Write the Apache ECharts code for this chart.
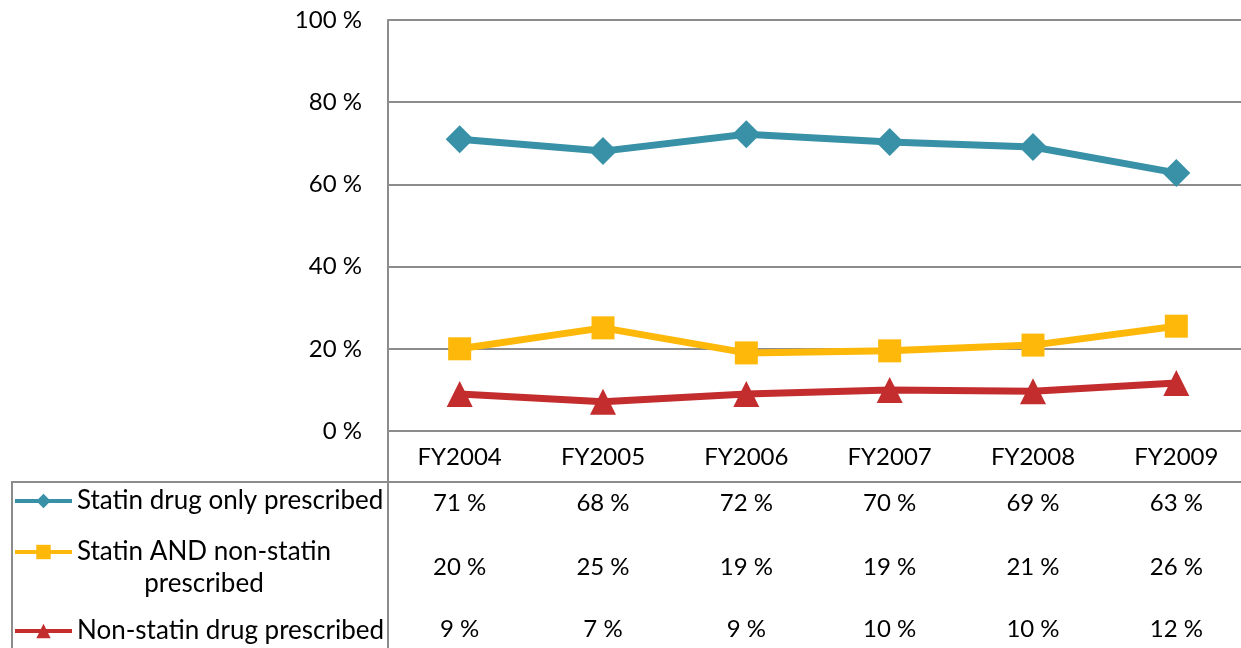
<!DOCTYPE html>
<html>
<head>
<meta charset="utf-8">
<script src="https://cdn.jsdelivr.net/npm/echarts@6/dist/echarts.min.js"></script>
<style>
  html, body { margin: 0; padding: 0; background: #fff; }
  #chart { width: 1241px; height: 648px; }
</style>
</head>
<body>
<div id="chart"></div>
<script>
// data
const years = ['FY2004', 'FY2005', 'FY2006', 'FY2007', 'FY2008', 'FY2009'];
const seriesNames = ['Statin drug only prescribed', 'Statin AND non-statin prescribed', 'Non-statin drug prescribed'];
const statinOnly = [71.0, 68.1, 72.2, 70.3, 69.1, 62.8];
const statinAndNon = [20.0, 25.1, 19.0, 19.5, 20.9, 25.5];
const nonStatin = [9.0, 7.1, 9.0, 10.0, 9.7, 11.7];
// rounded values as printed in the data table
const tableStatinOnly = [71, 68, 72, 70, 69, 63];
const tableStatinAndNon = [20, 25, 19, 19, 21, 26];
const tableNonStatin = [9, 7, 9, 10, 10, 12];
const yTicks = [0, 20, 40, 60, 80, 100];

const colors = ['#3891a7', '#feb80a', '#c32d2e'];
const FONT = 'Lato';
const FS = 24;
const LEGEND_FS = 26;
const gridColor = '#8c8c8c';
const LW = 2;

const chart = echarts.init(document.getElementById('chart'));

// one extra category axis per table row, so the numbers sit under each category
function tableAxis(values, offset) {
    return {
        type: 'category',
        data: years,
        position: 'bottom',
        offset: offset,
        axisLine: { show: false },
        axisTick: { show: false },
        splitLine: { show: false },
        axisLabel: {
            interval: 0,
            margin: 0,
            color: '#000',
            fontFamily: FONT,
            fontSize: FS,
            lineHeight: 24,
            formatter: (v, i) => values[i] + ' %'
        }
    };
}

function legendFor(name, top, extra) {
    return Object.assign({
        data: [name],
        orient: 'vertical',
        left: 13,
        top: top,
        padding: 0,
        itemWidth: 57,
        itemHeight: 18,
        selectedMode: false,
        lineStyle: { width: 4 },
        textStyle: { color: '#000', fontFamily: FONT, fontSize: LEGEND_FS, lineHeight: 32 }
    }, extra || {});
}

chart.setOption({
    animation: false,
    color: colors,
    // the plot runs a few pixels past the right edge, as in the original
    grid: { left: 388, top: 20, width: 860, height: 411, outerBoundsMode: 'none' },
    legend: [
        legendFor(seriesNames[0], 501 - 16),
        legendFor(seriesNames[1], 552 - 48, {
            formatter: () => '{a|Statin AND non-statin}\n{b|prescribed}',
            textStyle: {
                color: '#000', fontFamily: FONT, fontSize: LEGEND_FS, lineHeight: 32,
                padding: [32, 0, 0, 0],
                rich: {
                    a: { fontFamily: FONT, fontSize: LEGEND_FS, lineHeight: 32, color: '#000' },
                    b: { fontFamily: FONT, fontSize: LEGEND_FS, lineHeight: 32, color: '#000', align: 'center' }
                }
            }
        }),
        legendFor(seriesNames[2], 631 - 16)
    ],
    xAxis: [
        {
            type: 'category',
            data: years,
            axisLine: { lineStyle: { color: gridColor, width: LW } },
            axisTick: { show: false },
            axisLabel: {
                interval: 0, margin: 14, color: '#000',
                fontFamily: FONT, fontSize: FS, lineHeight: 24
            }
        },
        tableAxis(tableStatinOnly, 60),
        tableAxis(tableStatinAndNon, 124),
        tableAxis(tableNonStatin, 186)
    ],
    yAxis: {
        type: 'value',
        min: yTicks[0],
        max: yTicks[yTicks.length - 1],
        interval: 20,
        axisLine: { show: true, lineStyle: { color: gridColor, width: LW } },
        axisTick: { show: false },
        splitLine: { lineStyle: { color: gridColor, width: LW } },
        axisLabel: {
            margin: 26, color: '#000', fontFamily: FONT, fontSize: FS,
            formatter: '{value} %'
        }
    },
    series: [
        {
            name: seriesNames[0], type: 'line', data: statinOnly,
            symbol: 'diamond', symbolSize: 28,
            lineStyle: { width: 7 }, itemStyle: { color: colors[0] }
        },
        {
            name: seriesNames[1], type: 'line', data: statinAndNon,
            symbol: 'rect', symbolSize: 23,
            lineStyle: { width: 7 }, itemStyle: { color: colors[1] }
        },
        {
            name: seriesNames[2], type: 'line', data: nonStatin,
            symbol: 'triangle', symbolSize: 26,
            lineStyle: { width: 7 }, itemStyle: { color: colors[2] }
        }
    ],
    graphic: [
        // data table borders
        { type: 'line', shape: { x1: 12, y1: 482, x2: 1241, y2: 482 }, style: { stroke: gridColor, lineWidth: LW } },
        { type: 'line', shape: { x1: 12, y1: 481, x2: 12, y2: 648 }, style: { stroke: gridColor, lineWidth: LW } },
        { type: 'line', shape: { x1: 388, y1: 431, x2: 388, y2: 648 }, style: { stroke: gridColor, lineWidth: LW } }
    ]
});

window.addEventListener('resize', () => chart.resize());
</script>
</body>
</html>
